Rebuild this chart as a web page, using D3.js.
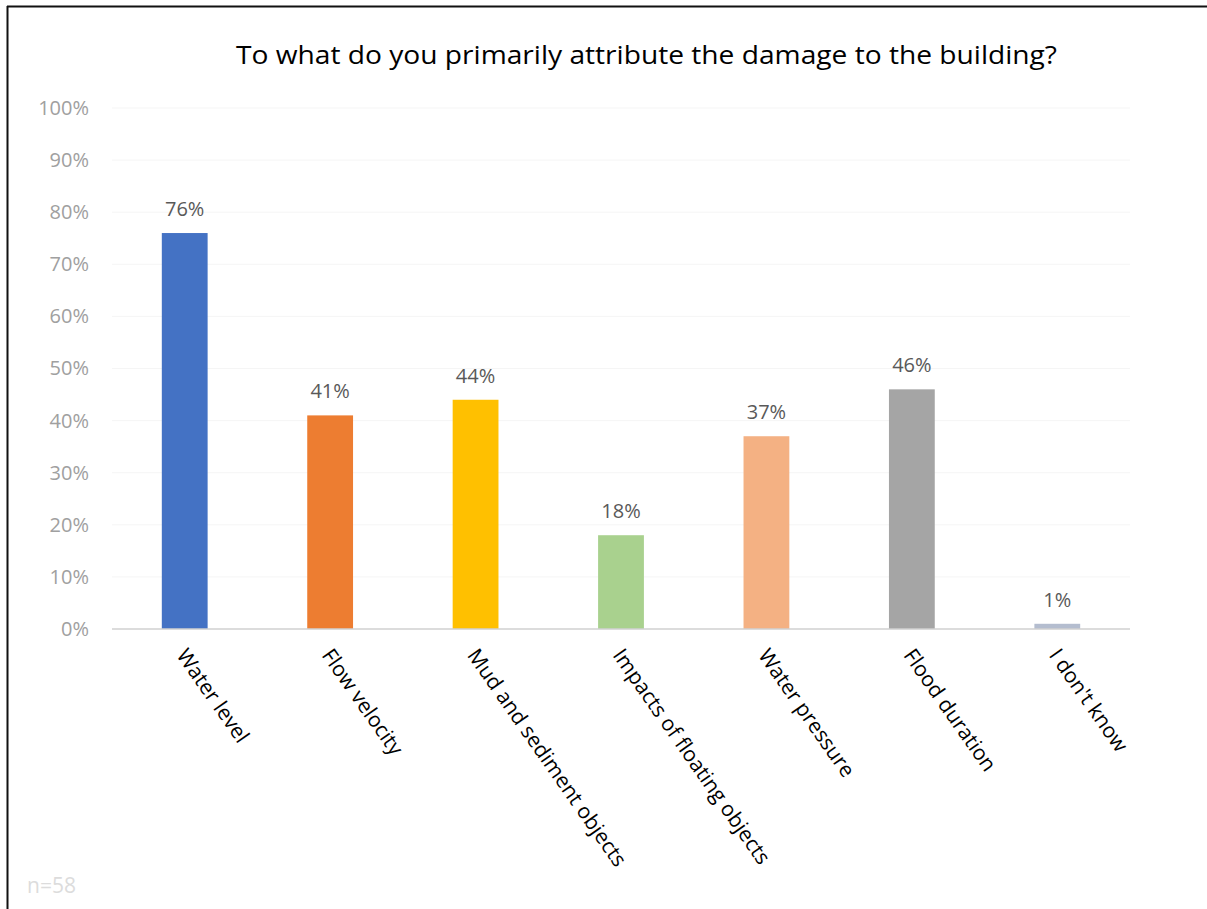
<!DOCTYPE html>
<html>
<head>
<meta charset="utf-8">
<script src="https://cdn.jsdelivr.net/npm/d3@7"></script>
<style>
  html, body { margin: 0; padding: 0; background: #fff; }
  svg { display: block; }
</style>
</head>
<body>
<script>
// Survey answers: share of respondents per damage cause
const categories = [
  "Water level",
  "Flow velocity",
  "Mud and sediment objects",
  "Impacts of floating objects",
  "Water pressure",
  "Flood duration",
  "I don't know"
];
const values = [76, 41, 44, 18, 37, 46, 1];
const barColors = ["#4472C4", "#ED7D31", "#FFC000", "#A9D18E", "#F4B183", "#A5A5A5", "#B4BDCF"];
const yTicks = [0, 10, 20, 30, 40, 50, 60, 70, 80, 90, 100];
const titleText = "To what do you primarily attribute the damage to the building?";
const noteText = "n=58";

const W = 1207, H = 909;
const svg = d3.select("body").append("svg").attr("width", W).attr("height", H);

// frame lines along the top and left edges
svg.append("line").attr("x1", 7).attr("x2", W).attr("y1", 6.5).attr("y2", 6.5)
  .attr("stroke", "#111").attr("stroke-width", 2);
svg.append("line").attr("x1", 7.5).attr("x2", 7.5).attr("y1", 6).attr("y2", H)
  .attr("stroke", "#111").attr("stroke-width", 2);

const plot = { left: 112, right: 1130, top: 108, bottom: 629 };

const x = d3.scaleBand().domain(categories)
  .range([plot.left, plot.right])
  .paddingInner(0.685).paddingOuter(0.3425);
const y = d3.scaleLinear().domain([0, 100]).range([plot.bottom, plot.top]);

const font = "'Open Sans', sans-serif";

// title, slightly widened glyphs
svg.append("text")
  .attr("x", 236).attr("y", 64)
  .attr("font-family", font).attr("font-size", 25)
  .attr("fill", "#000")
  .attr("textLength", 821).attr("lengthAdjust", "spacingAndGlyphs")
  .text(titleText);

// faint horizontal gridlines
svg.append("g").selectAll("line").data(yTicks.filter(d => d > 0)).join("line")
  .attr("x1", plot.left).attr("x2", plot.right)
  .attr("y1", d => y(d)).attr("y2", d => y(d))
  .attr("stroke", "#f5f5f5").attr("stroke-width", 1);

// y axis labels
const yAxis = d3.axisLeft(y).tickValues(yTicks).tickFormat(d => d + "%").tickSize(0).tickPadding(0);
const yg = svg.append("g").attr("transform", `translate(89,0)`).call(yAxis);
yg.select(".domain").remove();
yg.selectAll("text")
  .attr("font-family", font).attr("font-size", 20)
  .attr("fill", "#a0a0a0");

// bars
svg.append("g").selectAll("rect").data(values).join("rect")
  .attr("x", (d, i) => x(categories[i]))
  .attr("width", x.bandwidth())
  .attr("y", d => y(d))
  .attr("height", d => y(0) - y(d))
  .attr("fill", (d, i) => barColors[i]);

// value labels
svg.append("g").selectAll("text").data(values).join("text")
  .attr("x", (d, i) => x(categories[i]) + x.bandwidth() / 2)
  .attr("y", d => y(d) - 17)
  .attr("text-anchor", "middle")
  .attr("font-family", font).attr("font-size", 20)
  .attr("fill", "#595959")
  .text(d => d + "%");

// category axis line
const xAxis = d3.axisBottom(x).tickSize(0).tickFormat("");
const xg = svg.append("g").attr("transform", `translate(0,${plot.bottom})`).call(xAxis);
xg.select(".domain").attr("stroke", "#d0d0d0").attr("stroke-width", 1.5)
  .attr("d", `M${plot.left},0H${plot.right}`);

// rotated category labels
svg.append("g").selectAll("text").data(categories).join("text")
  .attr("transform", d => `translate(${x(d) + x.bandwidth() / 2 - 3},${plot.bottom + 22}) rotate(55)`)
  .attr("font-family", font).attr("font-size", 21)
  .attr("fill", "#000")
  .attr("dy", "0.35em")
  .text(d => d);

// sample size note
svg.append("text")
  .attr("x", 27).attr("y", 893)
  .attr("font-family", font).attr("font-size", 21)
  .attr("fill", "#dcdcdc")
  .text(noteText);
</script>
</body>
</html>
